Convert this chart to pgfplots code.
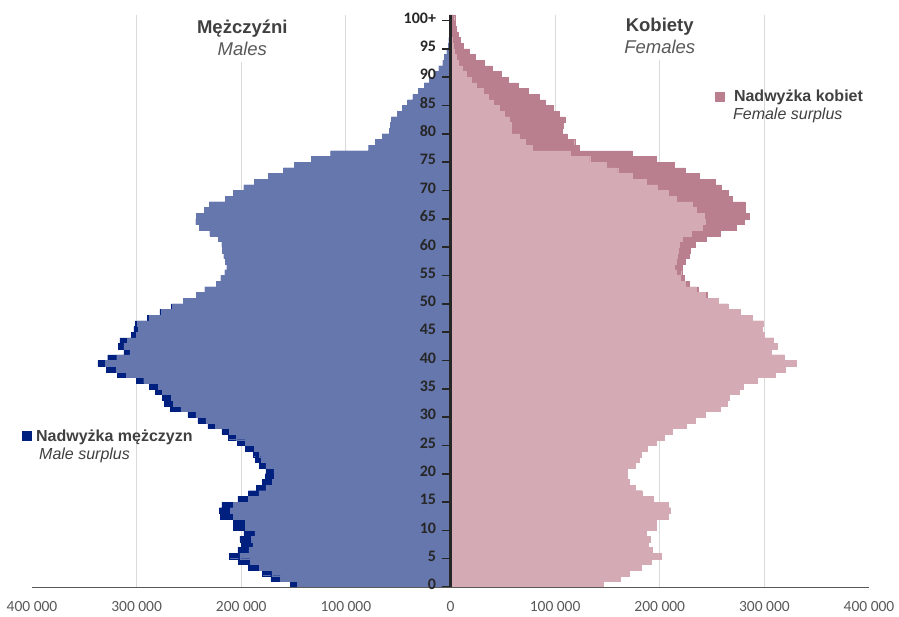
\documentclass[border=0pt]{standalone}
\usepackage{fontspec}
\setmainfont{Liberation Sans}
\newfontfamily\carlito{Carlito}
\usepackage{pgfplots}
\usepackage{pgfplotstable}
\pgfplotsset{compat=1.18}

\definecolor{menBar}{HTML}{6677AD}
\definecolor{menSurplus}{HTML}{002080}
\definecolor{womenBar}{HTML}{D4AAB4}
\definecolor{womenSurplus}{HTML}{BA7F8F}
\definecolor{gridGray}{HTML}{D9D9D9}
\definecolor{txtDark}{HTML}{404040}
\definecolor{txtGray}{HTML}{595959}

% grid below the bars, axis line and ticks above them
\pgfplotsset{
  layers/gridbelow/.define layer set={
    axis background,axis grid,main,axis ticks,axis lines,axis tick labels,axis descriptions,axis foreground
  }{
    grid style={/pgfplots/on layer=axis grid},
    tick style={/pgfplots/on layer=axis ticks},
    axis line style={/pgfplots/on layer=axis lines},
    label style={/pgfplots/on layer=axis descriptions},
    legend style={/pgfplots/on layer=axis descriptions},
    title style={/pgfplots/on layer=axis descriptions},
    ticklabel style={/pgfplots/on layer=axis tick labels},
    axis background@ style={/pgfplots/on layer=axis background},
  },
}

% population by age, thousands (M = men, F = women)
\pgfplotstableread{
age M F
0 153.4 146.2
1 171.6 162.5
2 179.6 170.7
3 193.0 182.5
4 202.6 191.5
5 211.5 201.2
6 203.2 192.8
7 200.0 189.0
8 201.2 190.6
9 197.4 187.0
10 207.7 196.2
11 207.7 196.2
12 219.8 207.7
13 221.0 210.2
14 218.5 207.7
15 203.2 193.4
16 193.0 183.1
17 185.4 176.4
18 179.6 170.6
19 177.0 168.4
20 176.4 168.9
21 182.8 176.4
22 186.6 180.6
23 188.5 182.6
24 196.2 187.5
25 203.8 196.2
26 212.1 204.5
27 218.5 211.5
28 231.9 224.9
29 241.4 233.8
30 251.0 243.4
31 267.6 257.7
32 273.4 264.8
33 275.3 266.7
34 282.3 275.6
35 288.0 279.4
36 300.2 293.2
37 318.7 310.0
38 328.9 319.6
39 337.1 330.1
40 327.6 319.0
41 312.3 306.5
42 317.4 312.3
43 316.1 308.8
44 305.3 300.2
45 302.7 298.3
46 301.4 299.2
47 289.6 288.2
48 277.8 276.6
49 267.0 265.7
50 255.5 256.2
51 243.1 245.3
52 234.8 237.0
53 223.9 228.0
54 219.5 223.6
55 215.6 221.0
56 213.7 221.7
57 215.3 224.2
58 216.6 228.0
59 217.9 228.7
60 218.5 233.8
61 221.7 244.0
62 229.9 257.4
63 240.2 273.4
64 243.4 281.0
65 242.8 285.5
66 235.1 281.6
67 230.6 281.6
68 215.3 269.5
69 207.7 265.7
70 197.4 259.0
71 187.3 252.9
72 173.9 237.6
73 159.8 224.2
74 149.0 213.4
75 133.0 196.2
76 114.5 173.9
77 78.2 122.8
78 71.8 118.7
79 65.4 111.3
80 58.4 106.5
81 57.8 108.1
82 56.5 109.4
83 51.0 104.3
84 46.2 97.9
85 41.1 90.9
86 36.0 84.5
87 30.9 74.0
88 24.9 64.4
89 20.1 54.9
90 15.3 48.5
91 11.2 39.9
92 7.3 32.5
93 5.7 23.9
94 3.5 18.2
95 2.2 12.4
96 1.6 9.2
97 1.0 7.0
98 0.7 5.5
99 0.4 4.5
100 0.3 4.0
}\pyramid

\begin{document}
\begin{tikzpicture}
\begin{axis}[
  name=ax,
  set layers=gridbelow,
  scale only axis, width=837pt, height=572pt,
  xmin=-400, xmax=400, ymin=0, ymax=101,
  clip=false,
  axis x line=bottom, axis y line=middle,
  x axis line style={-, draw=txtGray, line width=0.8pt},
  y axis line style={-, draw=black!85, line width=2.2pt},
  hide obscured x ticks=false, hide obscured y ticks=false,
  xtick={-300,-200,...,300},
  xticklabels={300~000,200~000,100~000,0,100~000,200~000,300~000},
  extra x ticks={-400,400},
  extra x tick labels={400~000,400~000},
  extra x tick style={grid=none},
  xmajorgrids, grid style={draw=gridGray, line width=0.8pt},
  xtick style={draw=none},
  ytick={0,5,...,100},
  yticklabels={0,5,10,15,20,25,30,35,40,45,50,55,60,65,70,75,80,85,90,95,100+},
  ytick style={draw=black!85, line width=1.6pt},
  major tick length=9pt, tick align=center,
  xticklabel style={font=\fontsize{15.5}{17}\selectfont\carlito, text=txtGray, yshift=-6.5pt},
  yticklabel style={font=\fontsize{16}{18}\selectfont\carlito\bfseries, text=black!85, xshift=-2pt, yshift=2.5pt},
  xbar, bar width=1,
]
  % men: total, then the part matched by women on top
  \addplot[xbar, bar width=1, bar shift=0.5, fill=menSurplus, draw=menSurplus, line width=0.3pt]
    table[x expr=-\thisrow{M}, y=age] {\pyramid};
  \addplot[xbar, bar width=1, bar shift=0.5, fill=menBar, draw=menBar, line width=0.3pt]
    table[x expr={-min(\thisrow{M},\thisrow{F})}, y=age] {\pyramid};
  % women
  \addplot[xbar, bar width=1, bar shift=0.5, fill=womenSurplus, draw=womenSurplus, line width=0.3pt]
    table[x=F, y=age] {\pyramid};
  \addplot[xbar, bar width=1, bar shift=0.5, fill=womenBar, draw=womenBar, line width=0.3pt]
    table[x expr={min(\thisrow{M},\thisrow{F})}, y=age] {\pyramid};

  % titles
  \node[fill=white, align=center, inner xsep=6pt, inner ysep=6pt, text=txtDark,
        font=\fontsize{18.5}{22}\selectfont] at (axis cs:-199,97.0)
        {\textbf{Mężczyźni}\\\textcolor{txtGray}{\itshape Males}};
  \node[fill=white, align=center, inner xsep=6pt, inner ysep=6pt, text=txtDark,
        font=\fontsize{18.5}{22}\selectfont] at (axis cs:200,97.3)
        {\textbf{Kobiety}\\\textcolor{txtGray}{\itshape Females}};

  % legends
  \node[fill=womenSurplus, minimum size=10pt, inner sep=0pt] at (axis cs:257.4,86.6) {};
  \node[anchor=west, inner sep=0pt, text=txtDark, font=\fontsize{16}{18}\selectfont\bfseries]
    at (axis cs:270.8,86.4) {Nadwyżka kobiet};
  \node[anchor=west, inner sep=0pt, text=txtDark, font=\fontsize{16}{18}\selectfont\itshape]
    at (axis cs:269.9,83.2) {Female surplus};
  \node[fill=menSurplus, minimum size=10pt, inner sep=0pt] at (axis cs:-404.8,26.6) {};
  \node[anchor=west, inner sep=0pt, text=txtDark, font=\fontsize{16}{18}\selectfont\bfseries]
    at (axis cs:-396.2,26.5) {Nadwyżka mężczyzn};
  \node[anchor=west, inner sep=0pt, text=txtDark, font=\fontsize{16}{18}\selectfont\itshape]
    at (axis cs:-393.3,23.3) {Male surplus};
\end{axis}
\pgfresetboundingbox
\path[use as bounding box] ([xshift=-32pt,yshift=-30pt]ax.south west) rectangle ++(899pt,617pt);
\end{tikzpicture}
\end{document}
